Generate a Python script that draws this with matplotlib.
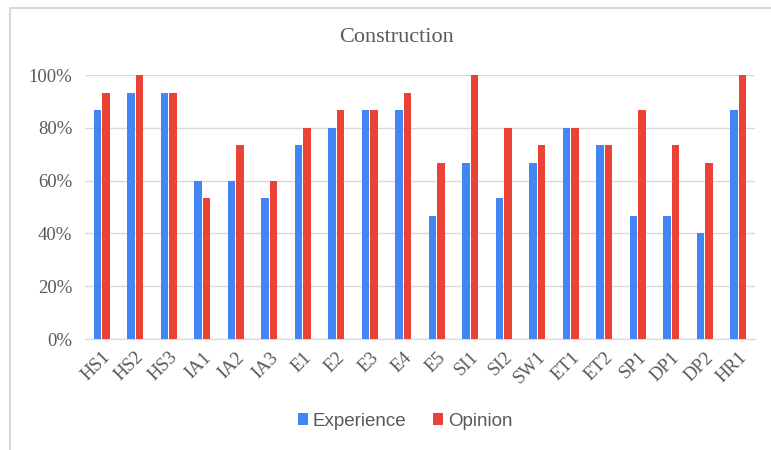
import matplotlib
matplotlib.use("Agg")
import matplotlib.pyplot as plt, numpy as np
from matplotlib.patches import Rectangle

labels = ["HS1", "HS2", "HS3", "IA1", "IA2", "IA3", "E1", "E2", "E3", "E4",
          "E5", "SI1", "SI2", "SW1", "ET1", "ET2", "SP1", "DP1", "DP2", "HR1"]
experience = [86.7, 93.3, 93.3, 60.0, 60.0, 53.3, 73.3, 80.0, 86.7, 86.7,
              46.7, 66.7, 53.3, 66.7, 80.0, 73.3, 46.7, 46.7, 40.0, 86.7]
opinion = [93.3, 100.0, 93.3, 53.3, 73.3, 60.0, 80.0, 86.7, 86.7, 93.3,
           66.7, 100.0, 80.0, 73.3, 80.0, 73.3, 86.7, 73.3, 66.7, 100.0]

blue = "#4285F4"
red = "#EA4335"
grid = "#d9d9d9"
txt = "#595959"

fig = plt.figure(figsize=(7.71, 4.5), dpi=100)
# chart-area border (runs off the right and bottom edges)
fig.patches.append(Rectangle((10/771, -5/450), 770/771, 447/450, transform=fig.transFigure,
                             fill=False, edgecolor=grid, lw=1.5))
ax = fig.add_axes([85/771, 1 - 339/450, 670/771, 264/450])

x = np.arange(len(labels))
w = 0.22
ax.bar(x - 0.125, np.array(experience) / 100, w, color=blue, label="Experience", zorder=3)
ax.bar(x + 0.125, np.array(opinion) / 100, w, color=red, label="Opinion", zorder=3)

ax.set_xlim(-0.5, len(labels) - 0.5)
ax.set_ylim(0, 1)
ax.set_yticks(np.arange(0, 1.01, 0.2))
ax.set_yticklabels([f"{int(round(v*100))}%" for v in np.arange(0, 1.01, 0.2)],
                   family="Liberation Serif", fontsize=13.5, color=txt)
ax.set_xticks(x)
ax.set_xticklabels(labels, rotation=45, ha="right", rotation_mode="anchor",
                   family="Liberation Serif", fontsize=13.5, color=txt)
ax.tick_params(length=0, pad=9)
ax.tick_params(axis="x", pad=7)
ax.yaxis.grid(True, color=grid, lw=1, zorder=0)
for s in ["top", "right", "left"]:
    ax.spines[s].set_visible(False)
ax.spines["bottom"].set_color(grid)

fig.text(397/771, 1 - 38/450, "Construction", ha="center", va="center",
         family="Liberation Serif", fontsize=16, color=txt)

fig.legend(loc="center", bbox_to_anchor=(405/771, 1 - 421/450), ncol=2, frameon=False,
           prop={"family": "Liberation Sans", "size": 13.5}, handlelength=0.55, handleheight=0.55,
           handletextpad=0.25, columnspacing=1.4, labelcolor=txt)

fig.savefig("out.png", dpi=100)
